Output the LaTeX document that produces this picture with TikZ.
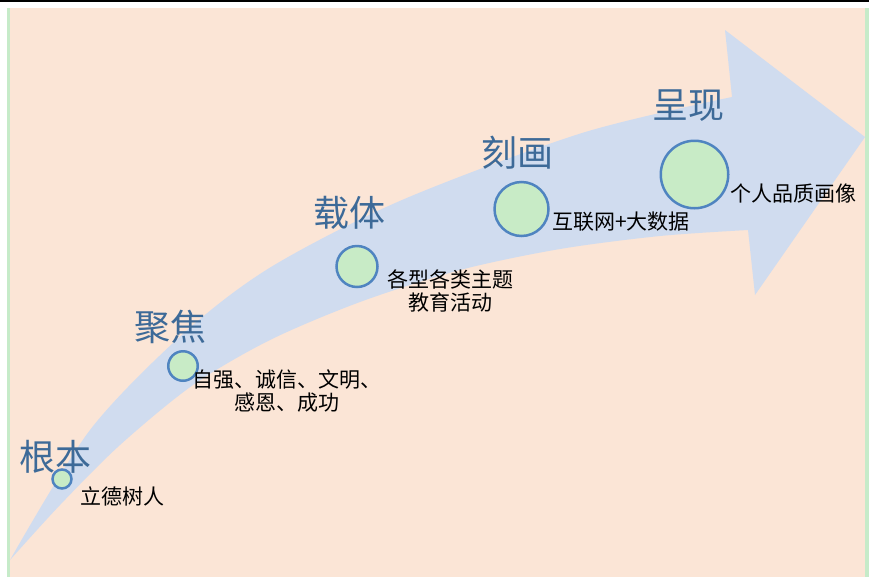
\documentclass[tikz,border=0pt]{standalone}
\usepackage{fontspec}
\setmainfont{Noto Sans CJK SC}
\definecolor{peach}{HTML}{FBE5D6}
\definecolor{sideline}{HTML}{C6EBC9}
\definecolor{arrowblue}{HTML}{D0DCEF}
\definecolor{dotfill}{HTML}{C8EBC6}
\definecolor{dotline}{HTML}{4F84C0}
\definecolor{stagetext}{HTML}{3D6A98}
\begin{document}
\begin{tikzpicture}[x=1pt,y=-1pt]
\tikzstyle{every node}=[inner sep=0pt]
\tikzstyle{dot}=[circle,draw=dotline,fill=dotfill,line width=2.5pt]
\tikzstyle{stage}=[text=stagetext,font=\fontsize{36}{40}\selectfont]
\tikzstyle{note}=[align=center,font=\fontsize{21}{23}\selectfont]
\useasboundingbox (0,0) rectangle (869,579);
%%%------------------------------------------------------------------------------------------------------------
\fill[black](0,0) rectangle (869,2);
\fill[peach](7,8) rectangle (869,577);
\fill[sideline](7,8) rectangle (9.5,577);
\fill[sideline](865,8) rectangle (869,577);
\fill[arrowblue] plot[smooth] coordinates {(10,560) (90,430) (184,333) (271,267) (402,200) (582,133) (732,97)}
  -- (725,30) -- (865,137) -- (755,295) -- (748,230)
  -- plot[smooth] coordinates {(748,230) (660,236) (560,249) (460,270) (360,302) (270,340) (193,385) (120,445) (60,505) (10,560)} -- cycle;
%%%------------------------------------------------------------------------------------------------------------
\foreach \n/\x/\y/\d in {genben/62/479/19,jujiao/183/366/29.5,zaiti/357/266.5/41,kehua/521.5/209/54,chengxian/694.5/174.5/67.5}{
  \node[dot,minimum size=\d pt] (\n) at (\x,\y) {};}
\node[stage] (tgenben) at (55,457) {根本};
\node[stage] (tjujiao) at (170,327) {聚焦};
\node[stage] (tzaiti) at (349,213) {载体};
\node[stage] (tkehua) at (517,153) {刻画};
\node[stage] (tchengxian) at (688,106) {呈现};
%%%------------------------------------------------------------------------------------------------------------
\node[note] (lgenben) at (122,496) {立德树人};
\node[note] (ljujiao) at (287,391) {自强、诚信、文明、\\感恩、成功};
\node[note] (lzaiti) at (450,291) {各型各类主题\\教育活动};
\node[note] (lkehua) at (621,222) {互联网+大数据};
\node[note] (lchengxian) at (793,194) {个人品质画像};
\end{tikzpicture}
\end{document}
